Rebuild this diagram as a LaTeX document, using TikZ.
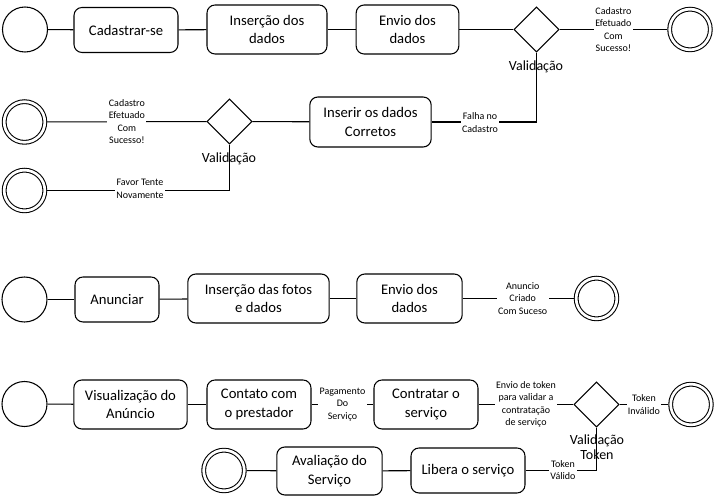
\documentclass[tikz,border=0pt]{standalone}
\usepackage{fontspec}
\setmainfont{Carlito}
\usetikzlibrary{shapes.geometric}

\begin{document}
\begin{tikzpicture}[x=0.75pt,y=-0.75pt,line width=0.8pt,
	tarefa/.style={draw, rounded corners=6pt, align=center, minimum height=36.75pt, inner sep=2pt, font=\fontsize{11}{14}\selectfont},
	inicio/.style={draw, circle, minimum size=33.75pt, inner sep=0pt},
	fim/.style={draw, circle, double, double distance=2pt, minimum size=30.5pt, inner sep=0pt, outer sep=1.8pt},
	decisao/.style={draw, diamond, minimum width=33.75pt, minimum height=33.75pt, inner sep=0pt},
	rotulo/.style={fill=white, align=center, inner sep=1pt, font=\fontsize{7.5}{9.4}\selectfont},
	titulo/.style={align=center, font=\fontsize{10.5}{11.3}\selectfont}]
	\useasboundingbox (0,0) rectangle (715,498);
	
	% cadastro
	\node[inicio] (s1) at (25,29.5) {};
	\node[tarefa, minimum width=78pt, minimum height=33.75pt] (cad) at (126,30) {Cadastrar-se};
	\node[tarefa, minimum width=90pt] (ins) at (267,29.5) {Inserção dos\\dados};
	\node[tarefa, minimum width=77pt] (env) at (407.5,29.5) {Envio dos\\dados};
	\node[decisao] (d1) at (536.5,29.5) {};
	\node[fim] (e1) at (690,29.5) {};
	\node[titulo] (v1) at (536,67) {Validação};
	\node[tarefa, minimum width=91pt, minimum height=37.5pt] (inr) at (370.5,122) {Inserir os dados\\Corretos};
	\node[decisao] (d2) at (229.5,121.5) {};
	\node[fim] (e2) at (24.5,122) {};
	\node[fim] (e3) at (24.5,190.5) {};
	\node[titulo] (v2) at (229,159) {Validação};
	
	\draw[] (s1) -- (cad);
	\draw[] (cad) -- (ins);
	\draw[] (ins) -- (env);
	\draw[] (env) -- (d1);
	\draw[] (d1) -- (e1) node[rotulo, midway]{Cadastro\\Efetuado\\Com\\Sucesso!};
	\draw[] (d1.south) |- (inr.east);
	\draw[] (inr) -- (d2);
	\draw[] (d2) -- (e2) node[rotulo, midway]{Cadastro\\Efetuado\\Com\\Sucesso!};
	\draw[] (d2.south) |- (e3.east);
	\node[rotulo] (falha) at (480,122.5) {Falha no\\Cadastro};
	\node[rotulo] (favor) at (140,189) {Favor Tente\\Novamente};
	
	% anuncio
	\node[inicio] (s3) at (24.5,299.5) {};
	\node[tarefa, minimum width=63pt, minimum height=33.75pt] (anu) at (117,299.5) {Anunciar};
	\node[tarefa, minimum width=106pt] (fot) at (258.5,298.5) {Inserção das fotos\\e dados};
	\node[tarefa, minimum width=79pt] (env2) at (409.5,298.5) {Envio dos\\dados};
	\node[fim] (e4) at (596.5,298.5) {};
	
	\draw[] (s3) -- (anu);
	\draw[] (anu) -- (fot);
	\draw[] (fot) -- (env2);
	\draw[] (env2) -- (e4) node[rotulo, pos=0.54]{Anuncio\\Criado\\Com Suceso};
	
	% contratacao
	\node[inicio] (s4) at (24.5,404) {};
	\node[tarefa, minimum width=85pt] (vis) at (130.5,404.5) {Visualização do\\Anúncio};
	\node[tarefa, minimum width=78pt] (con) at (259,404.5) {Contato com\\o prestador};
	\node[tarefa, minimum width=78pt] (ctr) at (426,404.5) {Contratar o\\serviço};
	\node[decisao] (d3) at (596.5,404.5) {};
	\node[fim] (e5) at (691,404.5) {};
	\node[titulo] (v3) at (597,447) {Validação\\Token};
	\node[tarefa, minimum width=85.5pt, minimum height=33.75pt] (lib) at (468,470.5) {Libera o serviço};
	\node[tarefa, minimum width=79pt, minimum height=36pt] (ava) at (329.5,471) {Avaliação do\\Serviço};
	\node[fim] (e6) at (224,470.5) {};
	
	\draw[] (s4) -- (vis);
	\draw[] (vis) -- (con);
	\draw[] (con) -- (ctr) node[rotulo, midway]{Pagamento\\Do\\Serviço};
	\draw[] (ctr) -- (d3) node[rotulo, midway]{Envio de token\\para validar a\\contratação\\de serviço};
	\draw[] (d3) -- (e5) node[rotulo, midway]{Token\\Inválido};
	\draw[] (d3.south) |- (lib.east);
	\draw[] (lib) -- (ava);
	\draw[] (ava) -- (e6);
	\node[rotulo] (valido) at (563,470) {Token\\Válido};
\end{tikzpicture}
\end{document}
